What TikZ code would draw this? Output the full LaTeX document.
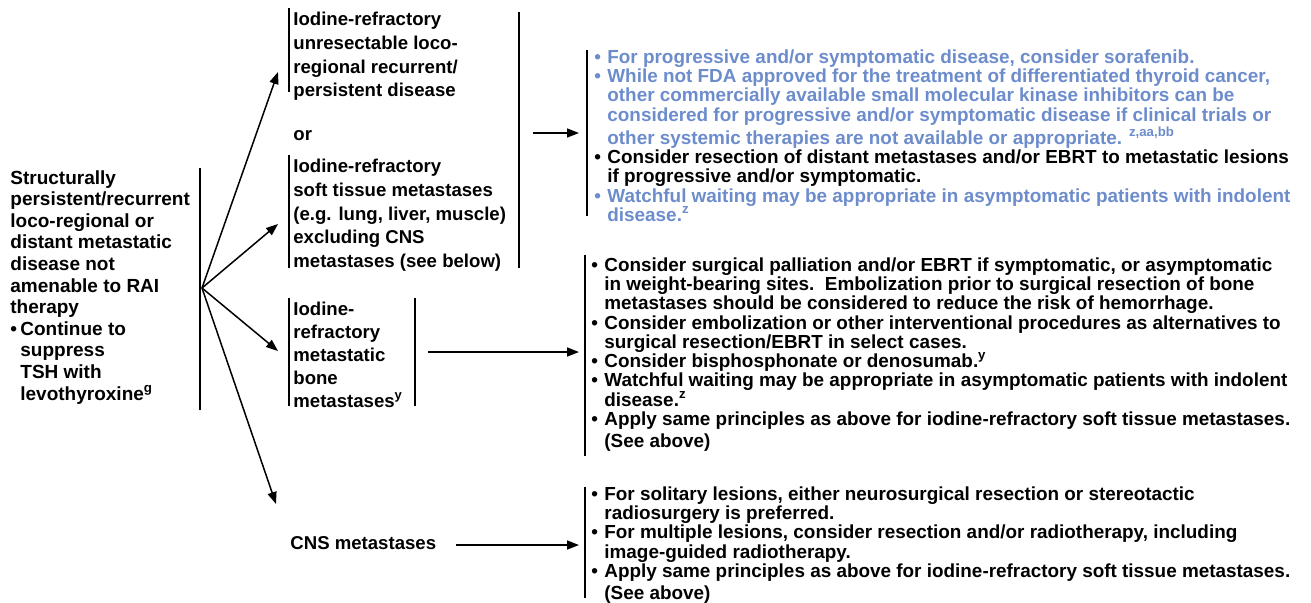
\documentclass[tikz,border=0pt]{standalone}
\usepackage{fontspec}
\setmainfont{Liberation Sans}
\usetikzlibrary{arrows.meta, positioning}
\definecolor{txtblue}{RGB}{108,140,204}
\newcommand{\bu}[1][6.5pt]{\makebox[#1][l]{\textbullet}}
\newcommand{\hg}[1][6.5pt]{\hspace*{#1}}
\newcommand{\bl}[1]{\textcolor{txtblue}{#1}}

\begin{document}
\begin{tikzpicture}[x=0.5pt, y=-0.5pt,
    txt/.style={font=\bfseries\fontsize{9.5}{10.8}\selectfont, align=left, inner sep=0pt, anchor=north west},
    midtxt/.style={txt, font=\bfseries\fontsize{9.3}{11.8}\selectfont},
    rxtxt/.style={txt, font=\bfseries\fontsize{9.45}{9.65}\selectfont},
    bar/.style={line width=0.7pt},
    arr/.style={line width=0.75pt, -{Triangle[length=6pt,width=4.5pt]}}]
    \useasboundingbox (0,0) rectangle (1311,602);

    % Starting condition
    \node[txt] (src) at (10,170) {Structurally\\persistent/recurrent\\loco-regional or\\distant metastatic\\disease not\\amenable to RAI\\therapy\\\bu[5pt]Continue to\\\hg[5pt]suppress\\\hg[5pt]TSH with\\\hg[5pt]levothyroxine\textsuperscript{g}};
    \draw[bar] (200,168) -- (200,410);

    % Fan of arrows
    \coordinate (fan) at (202,288);
    \coordinate (tipA) at (278,72);
    \coordinate (tipB) at (278,224);
    \coordinate (tipC) at (278,351);
    \coordinate (tipD) at (276,504);
    \foreach \t in {tipA,tipB,tipC,tipD}
        \draw[arr] (fan) -- (\t);

    % Soft tissue / loco-regional
    \node[midtxt] (unres) at (293,12) {Iodine-refractory\\unresectable loco-\\regional recurrent/\\persistent disease};
    \node[midtxt, anchor=west] (ortxt) at (293,136) {or};
    \node[midtxt] (soft) at (293,159) {Iodine-refractory\\soft tissue metastases\\(e.g. lung, liver, muscle)\\excluding CNS\\metastases (see below)};
    \draw[bar] (289,8) -- (289,92);
    \draw[bar] (289,155) -- (289,268);
    \draw[bar] (519,12) -- (519,268);

    % Bone
    \node[midtxt, font=\bfseries\fontsize{9.3}{11.4}\selectfont] (bone) at (293,302) {Iodine-\\refractory\\metastatic\\bone\\metastases\textsuperscript{y}};
    \draw[bar] (289,298) -- (289,406);
    \draw[bar] (415,298) -- (415,406);

    % CNS
    \node[midtxt, anchor=west] (cns) at (290,543) {CNS metastases};

    % Treatment options
    \node[rxtxt] (rxsoft) at (594,49) {\bl{\bu For progressive and/or symptomatic disease, consider sorafenib.}\\
        \bl{\bu While not FDA approved for the treatment of differentiated thyroid cancer,}\\
        \bl{\hg other commercially available small molecular kinase inhibitors can be}\\
        \bl{\hg considered for progressive and/or symptomatic disease if clinical trials or}\\
        \bl{\hg other systemic therapies are not available or appropriate. \textsuperscript{z,aa,bb}}\\
        \bu Consider resection of distant metastases and/or EBRT to metastatic lesions\\
        \hg if progressive and/or symptomatic.\\
        \bl{\bu Watchful waiting may be appropriate in asymptomatic patients with indolent}\\
        \bl{\hg disease.\textsuperscript{z}}};
    \node[rxtxt] (rxbone) at (591,257) {\bu Consider surgical palliation and/or EBRT if symptomatic, or asymptomatic\\
        \hg in weight-bearing sites.\ \ Embolization prior to surgical resection of bone\\
        \hg metastases should be considered to reduce the risk of hemorrhage.\\
        \bu Consider embolization or other interventional procedures as alternatives to\\
        \hg surgical resection/EBRT in select cases.\\
        \bu Consider bisphosphonate or denosumab.\textsuperscript{y}\\
        \bu Watchful waiting may be appropriate in asymptomatic patients with indolent\\
        \hg disease.\textsuperscript{z}\\
        \bu Apply same principles as above for iodine-refractory soft tissue metastases.\\[1.2pt]
        \hg (See above)};
    \node[rxtxt] (rxcns) at (591,486) {\bu For solitary lesions, either neurosurgical resection or stereotactic\\
        \hg radiosurgery is preferred.\\
        \bu For multiple lesions, consider resection and/or radiotherapy, including\\
        \hg image-guided radiotherapy.\\
        \bu Apply same principles as above for iodine-refractory soft tissue metastases.\\[1.2pt]
        \hg (See above)};
    \draw[bar] (587,50) -- (587,216);
    \draw[bar] (585,255) -- (585,456);
    \draw[bar] (585,487) -- (585,598);

    % Arrows to treatment
    \coordinate (outA) at (533,133);
    \coordinate (inA) at (579,133);
    \coordinate (outB) at (428,352);
    \coordinate (inB) at (579,352);
    \coordinate (outC) at (456,545);
    \coordinate (inC) at (579,545);
    \draw[arr] (outA) -- (inA);
    \draw[arr] (outB) -- (inB);
    \draw[arr] (outC) -- (inC);
\end{tikzpicture}
\end{document}
